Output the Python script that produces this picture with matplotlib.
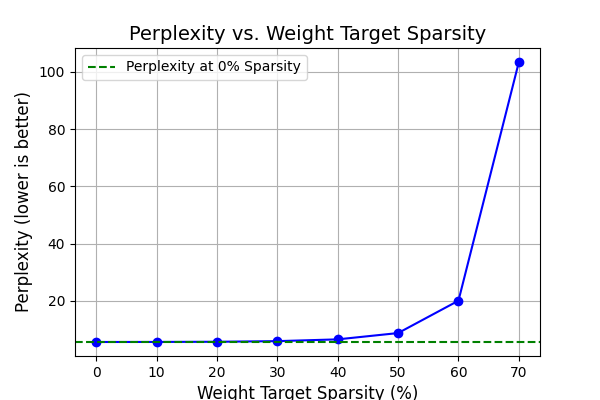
import matplotlib
matplotlib.use("Agg")
import matplotlib.pyplot as plt

# Sparsity levels and measured perplexity
sparsity = [0, 10, 20, 30, 40, 50, 60, 70]
perplexity = [5.68, 5.70, 5.76, 5.98, 6.6, 8.8, 20.1, 103.4]
baseline = perplexity[0]

fig = plt.figure(figsize=(6, 4), dpi=100)
plt.plot(sparsity, perplexity, marker='o', color='b')
plt.axhline(y=baseline, color='g', linestyle='--', label='Perplexity at 0% Sparsity')

plt.title("Perplexity vs. Weight Target Sparsity", fontsize=14)
plt.xlabel("Weight Target Sparsity (%)", fontsize=12)
plt.ylabel("Perplexity (lower is better)", fontsize=12)
plt.grid(True)
plt.legend(loc='upper left')

fig.savefig("out.png")
